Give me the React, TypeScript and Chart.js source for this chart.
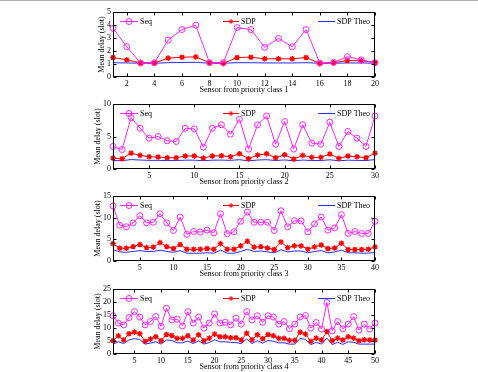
import React, { useEffect, useRef } from 'react';
import { Chart, registerables } from 'chart.js';
Chart.register(...registerables);

// ---- data ----
const class1Seq = [3.75, 2.33, 1.08, 1.1, 2.84, 3.65, 3.98, 1.1, 1.1, 3.8, 3.65, 2.28, 2.97, 2.33, 3.65, 1.07, 1.12, 1.57, 1.32, 1.1];
const class1Sdp = [1.5, 1.32, 1.08, 1.08, 1.45, 1.52, 1.55, 1.1, 1.05, 1.5, 1.52, 1.4, 1.4, 1.4, 1.5, 1.05, 1.1, 1.27, 1.25, 1.12];
const class1Theo = [1.1, 1.08, 1.06, 1.06, 1.1, 1.12, 1.13, 1.06, 1.06, 1.1, 1.1, 1.08, 1.08, 1.08, 1.1, 1.06, 1.06, 1.08, 1.08, 1.06];

const class2Seq = [3.47, 3.0, 7.9, 6.27, 4.74, 5.0, 4.34, 4.23, 6.27, 6.17, 3.37, 6.27, 6.8, 5.36, 7.65, 3.06, 6.8, 8.16, 3.83, 7.3, 3.06, 6.8, 3.98, 3.83, 7.2, 3.47, 5.77, 4.74, 3.47, 8.16];
const class2Sdp = [1.68, 1.58, 2.45, 2.09, 1.89, 1.84, 1.73, 1.73, 2.0, 2.0, 1.68, 2.0, 2.04, 1.89, 2.35, 1.58, 2.14, 2.35, 1.73, 2.2, 1.53, 2.09, 1.79, 1.79, 2.3, 1.63, 2.0, 1.89, 1.73, 2.45];
const class2Theo = [1.3, 1.28, 1.45, 1.38, 1.33, 1.33, 1.3, 1.3, 1.36, 1.36, 1.28, 1.36, 1.37, 1.33, 1.43, 1.25, 1.38, 1.43, 1.3, 1.4, 1.25, 1.38, 1.3, 1.3, 1.42, 1.26, 1.36, 1.33, 1.3, 1.45];

const class3Seq = [12.7, 8.26, 7.9, 8.8, 10.45, 8.8, 8.94, 10.9, 8.8, 7.05, 10.15, 6.14, 6.8, 6.67, 7.12, 6.5, 10.9, 6.3, 6.74, 9.17, 11.3, 8.94, 8.94, 8.94, 7.05, 11.6, 7.9, 9.3, 9.24, 6.74, 8.56, 10.15, 7.12, 7.65, 10.7, 6.36, 6.8, 6.36, 6.36, 9.17];
const class3Sdp = [4.0, 2.95, 2.95, 3.33, 3.8, 3.1, 3.2, 4.24, 3.33, 2.88, 3.8, 2.7, 2.7, 2.7, 2.88, 2.7, 4.0, 2.7, 2.7, 3.5, 4.55, 3.2, 3.33, 3.0, 2.65, 4.4, 3.1, 3.5, 3.5, 2.73, 3.26, 3.7, 2.88, 3.0, 4.1, 2.65, 2.65, 2.65, 2.7, 3.26];
const class3Theo = [2.6, 2.1, 2.0, 2.2, 2.4, 2.2, 2.2, 2.5, 2.2, 2.0, 2.4, 1.8, 1.8, 1.8, 1.9, 1.8, 2.5, 1.8, 1.8, 2.2, 2.7, 2.2, 2.3, 2.1, 1.9, 2.6, 2.1, 2.3, 2.3, 1.9, 2.2, 2.4, 1.9, 2.1, 2.5, 1.9, 1.9, 1.8, 1.8, 2.0];

const class4Seq = [14.7, 11.9, 11.2, 14.0, 16.3, 14.2, 11.2, 12.5, 14.4, 10.6, 17.6, 13.1, 13.4, 10.8, 16.3, 11.9, 14.2, 9.95, 11.9, 15.4, 11.9, 12.2, 11.2, 13.8, 11.5, 16.3, 13.1, 14.7, 12.2, 14.7, 14.2, 11.5, 12.5, 9.7, 11.5, 14.2, 14.8, 9.95, 12.1, 9.6, 19.8, 8.9, 12.5, 9.7, 11.5, 14.4, 9.2, 11.5, 9.6, 11.9];
const class4Sdp = [5.1, 7.0, 5.36, 7.8, 8.4, 7.8, 4.85, 5.74, 6.63, 5.1, 7.5, 7.1, 6.0, 6.0, 7.0, 5.36, 7.4, 5.1, 6.1, 7.65, 6.63, 6.63, 6.25, 6.25, 5.36, 8.0, 5.5, 7.4, 5.87, 7.5, 7.0, 6.0, 6.0, 5.23, 5.23, 8.4, 7.65, 4.85, 6.1, 5.36, 8.67, 5.1, 6.1, 5.36, 6.63, 6.1, 5.1, 5.5, 5.36, 5.36];
const class4Theo = [3.8, 4.7, 4.0, 5.4, 5.9, 5.6, 3.8, 4.2, 4.7, 3.8, 5.4, 5.2, 4.3, 4.3, 5.0, 4.0, 5.1, 3.8, 4.4, 5.5, 4.7, 4.7, 4.5, 4.4, 4.0, 5.8, 4.0, 5.1, 4.2, 5.2, 4.9, 4.3, 4.3, 3.8, 3.8, 6.0, 5.6, 3.6, 4.5, 3.8, 6.1, 3.6, 4.5, 3.7, 4.7, 4.5, 3.8, 3.8, 3.8, 3.8];

const seriesLabels = ['Seq', 'SDP', 'SDP Theo'];
const yAxisTitle = 'Mean delay (slot)';
const xAxisTitlePrefix = 'Sensor from priority class ';

const FONT_FAMILY = "'Liberation Serif', 'Times New Roman', serif";
const SEQ_COLOR = '#ff22ff';
const SDP_COLOR = '#ff0000';
const THEO_COLOR = '#2a2aff';

type Spec = {
  seq: number[]; sdp: number[]; theo: number[];
  yMax: number; yStep: number; xStep: number; cls: number; top: number; padLeft: number;
};

const specs: Spec[] = [
  { seq: class1Seq, sdp: class1Sdp, theo: class1Theo, yMax: 5, yStep: 1, xStep: 2, cls: 1, top: 0, padLeft: 98 },
  { seq: class2Seq, sdp: class2Sdp, theo: class2Theo, yMax: 10, yStep: 5, xStep: 5, cls: 2, top: 92, padLeft: 94 },
  { seq: class3Seq, sdp: class3Sdp, theo: class3Theo, yMax: 15, yStep: 5, xStep: 5, cls: 3, top: 184, padLeft: 94 },
  { seq: class4Seq, sdp: class4Sdp, theo: class4Theo, yMax: 25, yStep: 5, xStep: 5, cls: 4, top: 277, padLeft: 94 },
];

function drawStar(ctx: CanvasRenderingContext2D, x: number, y: number, r: number) {
  ctx.beginPath();
  ctx.moveTo(x - r, y); ctx.lineTo(x + r, y);
  ctx.moveTo(x, y - r); ctx.lineTo(x, y + r);
  const d = r * 0.707;
  ctx.moveTo(x - d, y - d); ctx.lineTo(x + d, y + d);
  ctx.moveTo(x - d, y + d); ctx.lineTo(x + d, y - d);
  ctx.stroke();
}

const boxPlugin = {
  id: 'matlabBox',
  afterDatasetsDraw(chart: any) {
    const { ctx, chartArea: a, scales } = chart;
    const xs = scales.x, ys = scales.y;
    const L = Math.round(a.left) + 0.5, R = Math.round(a.right) - 0.5;
    const T = Math.round(a.top) + 0.5, B = Math.round(a.bottom) - 0.5;
    ctx.save();
    ctx.strokeStyle = '#000';
    ctx.lineWidth = 1;
    ctx.strokeRect(L, T, R - L, B - T);
    const tl = 3;
    ctx.beginPath();
    xs.ticks.forEach((t: any) => {
      const px = Math.round(xs.getPixelForValue(t.value)) + 0.5;
      ctx.moveTo(px, B); ctx.lineTo(px, B - tl);
      ctx.moveTo(px, T); ctx.lineTo(px, T + tl);
    });
    ys.ticks.forEach((t: any) => {
      const py = Math.round(ys.getPixelForValue(t.value)) + 0.5;
      ctx.moveTo(L, py); ctx.lineTo(L + tl, py);
      ctx.moveTo(R, py); ctx.lineTo(R - tl, py);
    });
    ctx.stroke();
    ctx.restore();
  },
};

const legendPlugin = {
  id: 'insideLegend',
  afterDatasetsDraw(chart: any) {
    const { ctx, chartArea: a } = chart;
    const y = Math.round(a.top + 9) + 0.5;
    const entries = [
      { x0: 7, x1: 25, tx: 27 },
      { x0: 110, x1: 126, tx: 128 },
      { x0: 205, x1: 222, tx: 224 },
    ];
    ctx.save();
    ctx.font = `8px ${FONT_FAMILY}`;
    ctx.textBaseline = 'middle';
    ctx.fillStyle = '#000';
    chart.data.datasets.forEach((ds: any, i: number) => {
      const e = entries[i];
      const x0 = a.left + e.x0, x1 = a.left + e.x1;
      ctx.strokeStyle = ds.borderColor;
      ctx.lineWidth = 1;
      ctx.beginPath(); ctx.moveTo(x0, y); ctx.lineTo(x1, y); ctx.stroke();
      const cx = (x0 + x1) / 2;
      if (i === 0) {
        ctx.beginPath(); ctx.arc(cx, y, 3, 0, Math.PI * 2); ctx.stroke();
      } else if (i === 1) {
        drawStar(ctx, cx, y, 2.5);
      }
      ctx.fillText(ds.label, a.left + e.tx, y);
    });
    ctx.restore();
  },
};

function Panel({ spec }: { spec: Spec }) {
  const ref = useRef<HTMLCanvasElement>(null);
  useEffect(() => {
    if (!ref.current) return;
    const pts = (arr: number[]) => arr.map((v, i) => ({ x: i + 1, y: v }));
    const n = spec.seq.length;
    const font = { family: FONT_FAMILY, size: 8 };
    const chart = new Chart(ref.current, {
      type: 'line',
      data: {
        datasets: [
          {
            label: seriesLabels[0], data: pts(spec.seq), borderColor: SEQ_COLOR, borderWidth: 1,
            pointStyle: 'circle', pointRadius: 3, pointBorderColor: SEQ_COLOR,
            pointBackgroundColor: 'rgba(0,0,0,0)', pointBorderWidth: 1, clip: false,
          },
          {
            label: seriesLabels[1], data: pts(spec.sdp), borderColor: SDP_COLOR, borderWidth: 1,
            pointStyle: 'star', pointRadius: 2.8, pointBorderColor: SDP_COLOR,
            pointBackgroundColor: SDP_COLOR, pointBorderWidth: 1.3, clip: false,
          },
          {
            label: seriesLabels[2], data: pts(spec.theo), borderColor: THEO_COLOR, borderWidth: 1,
            pointRadius: 0, clip: false,
          },
        ],
      } as any,
      options: {
        animation: false,
        responsive: false,
        maintainAspectRatio: false,
        layout: { padding: { left: spec.padLeft, right: 103, top: 12, bottom: 0 } },
        plugins: { legend: { display: false }, tooltip: { enabled: false } },
        elements: { line: { tension: 0 } },
        scales: {
          x: {
            type: 'linear', min: 1, max: n,
            grid: { display: false, drawTicks: false },
            border: { display: false },
            ticks: { stepSize: spec.xStep, font, color: '#000', padding: 2, maxRotation: 0, autoSkip: false },
            afterBuildTicks: (s: any) => { s.ticks = s.ticks.filter((t: any) => t.value % spec.xStep === 0); },
            afterFit: (s: any) => { s.height = 17; },
            title: { display: true, text: xAxisTitlePrefix + spec.cls, font: { ...font, lineHeight: 1 }, color: '#000', padding: 0 },
          },
          y: {
            type: 'linear', min: 0, max: spec.yMax,
            grid: { display: false, drawTicks: false },
            border: { display: false },
            ticks: { stepSize: spec.yStep, font, color: '#000', padding: 2 },
            afterFit: (s: any) => { s.width = 113 - spec.padLeft; },
            title: { display: true, text: yAxisTitle, font: { ...font, lineHeight: 1 }, color: '#000', padding: 0 },
          },
        },
      } as any,
      plugins: [boxPlugin, legendPlugin],
    });
    return () => chart.destroy();
  }, [spec]);
  return (
    <canvas
      ref={ref}
      width={478}
      height={94}
      style={{ position: 'absolute', left: 0, top: spec.top, width: 478, height: 94 }}
    />
  );
}

export default function App() {
  return (
    <div style={{ position: 'absolute', left: 0, top: 0, width: 478, height: 372, background: '#fff' }}>
      <div style={{ position: 'absolute', left: 0, top: 0, width: 478, height: 1, background: '#b0b0b0' }} />
      {specs.map((s) => (
        <Panel key={s.cls} spec={s} />
      ))}
    </div>
  );
}
